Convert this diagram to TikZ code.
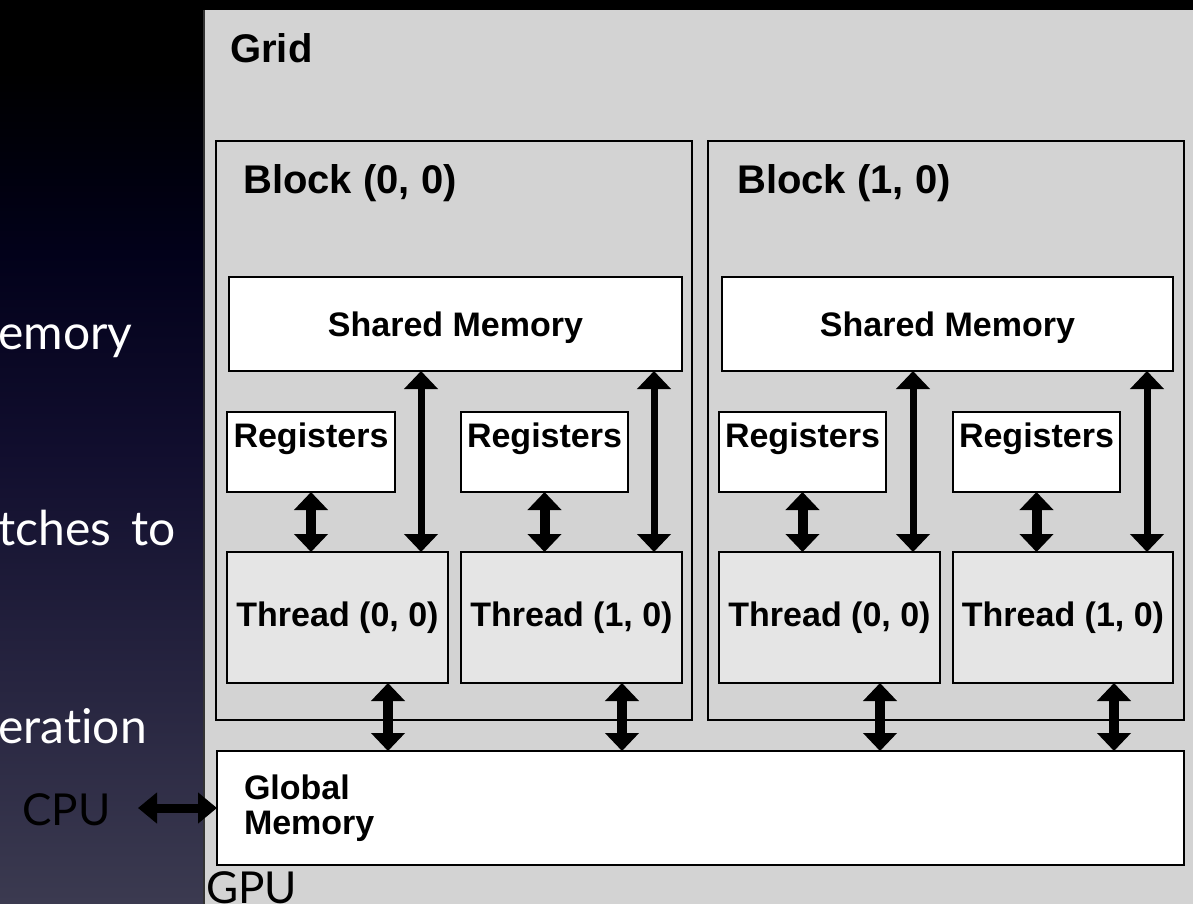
\documentclass[tikz,border=0pt]{standalone}
\usepackage{fontspec}
\setmainfont{Liberation Sans}
\newfontfamily\slidefont[Ligatures=NoCommon]{Lato}
\usetikzlibrary{arrows.meta}

\definecolor{panelgray}{HTML}{D3D3D3}
\definecolor{threadgray}{HTML}{E5E5E5}
\definecolor{bgD}{HTML}{3B3A50}
\definecolor{bgC}{HTML}{272540}
\definecolor{bgB}{HTML}{110E2E}
\definecolor{bgA}{HTML}{02011A}
\definecolor{bgT}{HTML}{00000C}

% slide backdrop, dark at the top and lighter towards the bottom
\pgfdeclareverticalshading{slidebg}{100bp}{%
  color(0bp)=(bgD); color(25bp)=(bgD); color(37bp)=(bgC);
  color(50bp)=(bgB); color(61bp)=(bgA); color(66bp)=(bgT);
  color(71bp)=(black); color(100bp)=(black)}

\begin{document}
\begin{tikzpicture}[x=1pt,y=-1pt,
  panel/.style={fill=panelgray, inner sep=0pt, outer sep=0pt, anchor=north west},
  blockbox/.style={draw=black, line width=2pt, fill=panelgray, inner sep=0pt,
    outer sep=0pt, anchor=north west},
  membox/.style={draw=black, line width=2.2pt, fill=white, inner sep=0pt,
    outer sep=0pt, anchor=north west, font=\bfseries\fontsize{34}{35}\selectfont},
  sharedbox/.style={membox, text height=24pt, text depth=0pt},
  regbox/.style={membox, text height=35pt, text depth=45pt},
  thbox/.style={membox, fill=threadgray},
  title/.style={inner sep=0pt, anchor=base west, font=\bfseries\fontsize{40}{44}\selectfont},
  slide/.style={inner sep=0pt, anchor=base west, font=\slidefont\fontsize{48}{52}\selectfont, text=white},
  hosttext/.style={slide, text=black, font=\slidefont\fontsize{44}{48}\selectfont},
  longarr/.style={line width=7pt, {Triangle[width=33pt,length=18pt]}-{Triangle[width=33pt,length=18pt]}},
  shortarr/.style={line width=10pt, {Triangle[width=33pt,length=18pt]}-{Triangle[width=33pt,length=18pt]}},
  cpuarr/.style={line width=9pt, {Triangle[width=30pt,length=19pt]}-{Triangle[width=30pt,length=19pt]}}
]
\useasboundingbox (0,0) rectangle (1193,903);
\clip (0,0) rectangle (1193,903);

% backdrop
\fill[black] (0,0) rectangle (1193,903);
\shade[shading=slidebg] (0,0) rectangle (204,903);

% slide text
\node[slide] (t1) at (-2,349) {emory};
\node[slide] (t2) at (-2,545) {tches\hspace{20pt}to};
\node[slide] (t3) at (-2,743) {eration};
\node[hosttext] (cpu) at (22,825) {CPU};

% grid panel
\node[panel, minimum width=1000pt, minimum height=900pt] (grid) at (204,10) {};
\draw[line width=1.2pt, black!80] (grid.north west) -- (grid.south west);
\node[title] (gridlbl) at (230,62) {Grid};

% blocks
\node[blockbox, minimum width=476pt, minimum height=579pt] (blk0) at (216,141) {};
\node[blockbox, minimum width=476pt, minimum height=579pt] (blk1) at (708,141) {};
\node[title] (blk0lbl) at (243,193) {Block (0, 0)};
\node[title] (blk1lbl) at (737,193) {Block (1, 0)};

% shared memories
\node[sharedbox, minimum width=453pt, minimum height=94pt] (sm0) at (229,277) {Shared Memory};
\node[sharedbox, minimum width=451pt, minimum height=94pt] (sm1) at (722,277) {Shared Memory};

% registers
\node[regbox, minimum width=168pt] (rg0a) at (227,412) {Registers};
\node[regbox, minimum width=167pt] (rg0b) at (461,412) {Registers};
\node[regbox, minimum width=167pt] (rg1a) at (719,412) {Registers};
\node[regbox, minimum width=167pt] (rg1b) at (953,412) {Registers};

% threads
\node[thbox, minimum width=221pt, minimum height=131pt] (th0a) at (227,552) {Thread (0, 0)};
\node[thbox, minimum width=221pt, minimum height=131pt] (th0b) at (461,552) {Thread (1, 0)};
\node[thbox, minimum width=221pt, minimum height=131pt] (th1a) at (719,552) {Thread (0, 0)};
\node[thbox, minimum width=220pt, minimum height=131pt] (th1b) at (953,552) {Thread (1, 0)};

% global memory
\node[membox, minimum width=967pt, minimum height=114pt, text width=913pt,
  inner xsep=27pt, align=left] (gm) at (217,751) {Global\\Memory};

% arrow columns
\coordinate (la0) at (421,0);
\coordinate (lb0) at (654,0);
\coordinate (la1) at (913,0);
\coordinate (lb1) at (1147,0);
\coordinate (ga0) at (388,0);
\coordinate (gb0) at (622,0);
\coordinate (ga1) at (880,0);
\coordinate (gb1) at (1114,0);
\coordinate (cpuR) at (138,808);

% thread <-> shared memory
\draw[longarr] (sm0.south -| la0) -- (th0a.north -| la0);
\draw[longarr] (sm0.south -| lb0) -- (th0b.north -| lb0);
\draw[longarr] (sm1.south -| la1) -- (th1a.north -| la1);
\draw[longarr] (sm1.south -| lb1) -- (th1b.north -| lb1);

% registers <-> thread
\draw[shortarr] (rg0a.south) -- (rg0a.south |- th0a.north);
\draw[shortarr] (rg0b.south) -- (rg0b.south |- th0b.north);
\draw[shortarr] (rg1a.south) -- (rg1a.south |- th1a.north);
\draw[shortarr] (rg1b.south) -- (rg1b.south |- th1b.north);

% thread <-> global memory
\draw[shortarr] (th0a.south -| ga0) -- (gm.north -| ga0);
\draw[shortarr] (th0b.south -| gb0) -- (gm.north -| gb0);
\draw[shortarr] (th1a.south -| ga1) -- (gm.north -| ga1);
\draw[shortarr] (th1b.south -| gb1) -- (gm.north -| gb1);

% host link
\draw[cpuarr] (cpuR) -- (gm.west |- cpuR);

\node[hosttext] (gpu) at (206,903) {GPU};
\end{tikzpicture}
\end{document}
